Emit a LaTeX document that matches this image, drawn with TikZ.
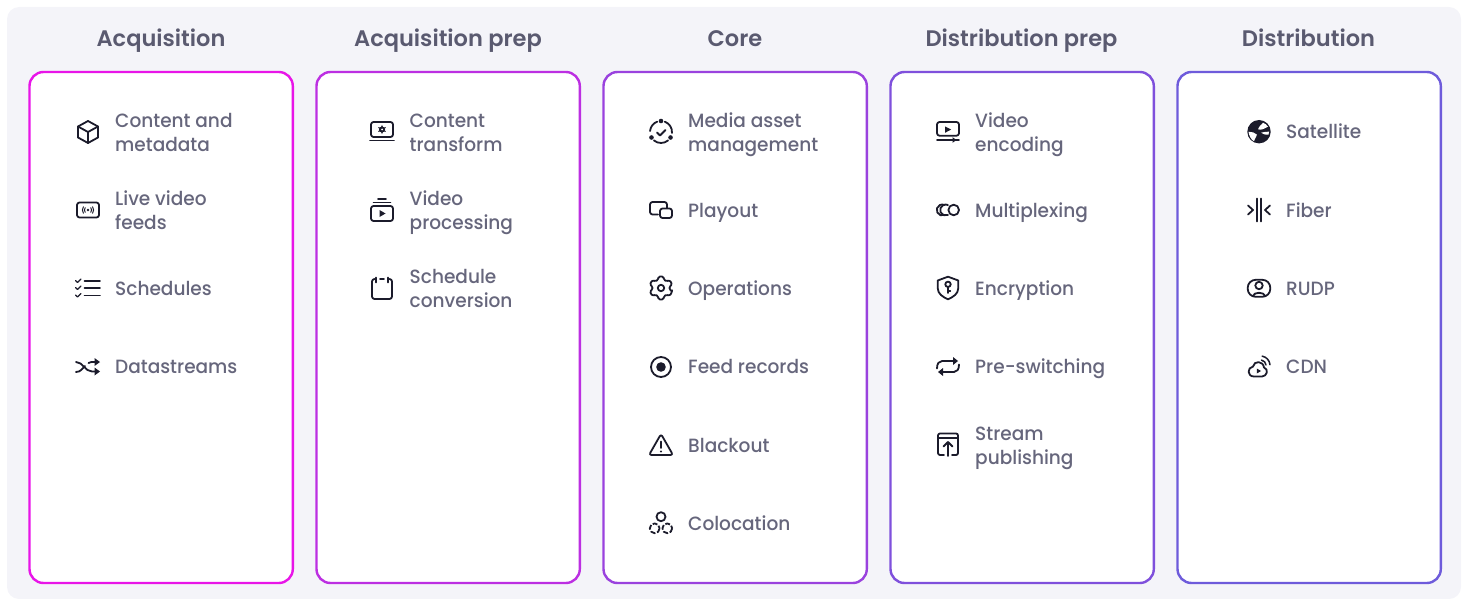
\documentclass[tikz,border=0pt]{standalone}
\usepackage{fontspec}
\setmainfont[FakeStretch=0.965]{Poppins Medium}
\newfontfamily\headfont{Poppins SemiBold}
\definecolor{bgc}{HTML}{F4F4F9}
\definecolor{txt}{HTML}{66667C}
\definecolor{hd}{HTML}{5A5A70}
\definecolor{ink}{HTML}{1B1B2B}
\definecolor{pa}{HTML}{E815E8}
\definecolor{pb}{HTML}{BC2FE2}
\definecolor{pc}{HTML}{9A42DE}
\definecolor{pd}{HTML}{7F50DC}
\definecolor{pe}{HTML}{6E5BDB}
\tikzset{
 panel/.style={draw=#1,line width=2.4pt,fill=white,rounded corners=14pt},
 head/.style={text=hd,font=\headfont\fontsize{22.5}{26}\selectfont,anchor=center,inner sep=0pt},
 item/.style={text=txt,font=\fontsize{19.2}{24}\selectfont,anchor=west,align=left,inner sep=0pt},
 ic/.style={draw=ink,line width=1.8pt,line cap=round,line join=round},
 icf/.style={fill=ink,draw=none},
}
\newcommand{\icube}[1]{\begin{scope}[shift={#1}]
 \draw[ic] (0,-11)--(10,-5.5)--(10,5.5)--(0,11)--(-10,5.5)--(-10,-5.5)--cycle;
 \draw[ic] (-10,-5.5)--(0,0)--(10,-5.5) (0,0)--(0,11);
\end{scope}}
\newcommand{\ilive}[1]{\begin{scope}[shift={#1}]
 \draw[ic,rounded corners=2.5pt] (-11,-7.5) rectangle (11,7.5);
 \fill[icf] (0,0) circle (1.4);
 \draw[ic,line width=1pt] (0,0) ++(140:3.6) arc (140:220:3.6) (0,0) ++(-40:3.6) arc (-40:40:3.6);
 \draw[ic,line width=1pt] (0,0) ++(145:5.6) arc (145:215:5.6) (0,0) ++(-35:5.6) arc (-35:35:5.6);
\end{scope}}
\newcommand{\ilist}[1]{\begin{scope}[shift={#1}]
 \draw[ic] (-3.5,-7)--(12,-7) (-3.5,0)--(12,0) (-3.5,7.5)--(12,7.5);
 \foreach \y in {-7,0,7.5}{\draw[ic,line width=1.4pt] (-12.5,\y-.5)--(-10.5,\y+1.5)--(-7,\y-2);}
\end{scope}}
\newcommand{\ishuffle}[1]{\begin{scope}[shift={#1}]
 \draw[ic] (-12,-5) .. controls (-5,-5) and (-3,4.5) .. (4,4.5) -- (8,4.5);
 \draw[ic] (-12,5) .. controls (-7,5) and (-6,1.5) .. (-3,-1);
 \draw[ic] (0.5,-4) .. controls (2,-5) and (3,-5) .. (8,-5);
 \fill[icf] (12,-5)--(6.5,-9)--(6.5,-1)--cycle (12,4.5)--(6.5,.5)--(6.5,8.5)--cycle;
\end{scope}}
\newcommand{\ilaptop}[1]{\begin{scope}[shift={#1}]
 \draw[ic,rounded corners=2.5pt] (-11,-10) rectangle (11,5);
 \draw[ic] (-12,8.5)--(12,8.5);
 \fill[icf] (0,-2.5) circle (3);
 \foreach \a in {30,90,...,330}{\fill[icf] ($(0,-2.5)+(\a-22:2.6)$)--($(0,-2.5)+(\a:4.6)$)--($(0,-2.5)+(\a+22:2.6)$)--cycle;}
 \fill[white] (0,-2.5) circle (1);
\end{scope}}
\newcommand{\iproc}[1]{\begin{scope}[shift={#1}]
 \draw[ic,rounded corners=2.5pt] (-11,-4) rectangle (11,11);
 \draw[ic] (-8.5,-7.5)--(8.5,-7.5) (-4,-11)--(4,-11);
 \fill[icf] (-2.5,0)--(3.5,3.5)--(-2.5,7)--cycle;
\end{scope}}
\newcommand{\ical}[1]{\begin{scope}[shift={#1}]
 \draw[ic,rounded corners=2.5pt] (-8,-9)--(-10,-9)--(-10,11)--(10,11)--(10,-9)--(8,-9);
 \draw[ic] (-6,-10.5)--(-6,-5.5) (6,-10.5)--(6,-5.5) (-2,-9)--(2,-9);
\end{scope}}
\newcommand{\iasset}[1]{\begin{scope}[shift={#1}]
 \draw[ic] (0,0) ++(-70:11) arc (-70:5:11);
 \draw[ic] (0,0) ++(-175:11) arc (-175:-110:11);
 \draw[ic] (0,0) ++(50:11) arc (50:130:11);
 \fill[icf] (-90:11) circle (2.3) (30:11) circle (2.3) (150:11) circle (2.3);
 \draw[ic] (-4,0.5)--(-1,3.5)--(4.5,-2);
\end{scope}}
\newcommand{\iplay}[1]{\begin{scope}[shift={#1}]
 \draw[ic,rounded corners=2.5pt] (-3,4.5)--(-11,4.5)--(-11,-8)--(6,-8)--(6,-2);
 \draw[ic,rounded corners=2.5pt] (-1,-1.5) rectangle (11,8);
\end{scope}}
\newcommand{\igear}[1]{\begin{scope}[shift={#1}]
 \draw[ic,rounded corners=1.3pt] (18:11.7) \foreach \a in {30,90,...,330}{ -- (\a+12:11.7) -- (\a+20:8.7) -- (\a+40:8.7) -- (\a+48:11.7)} -- cycle;
 \draw[ic] (0,0) circle (3.2);
\end{scope}}
\newcommand{\irec}[1]{\begin{scope}[shift={#1}]
 \draw[ic] (0,0) circle (10);
 \fill[icf] (0,0) circle (4.8);
\end{scope}}
\newcommand{\iwarn}[1]{\begin{scope}[shift={#1}]
 \draw[ic,rounded corners=2.5pt] (0,-11)--(12,10)--(-12,10)--cycle;
 \draw[ic] (0,-3.5)--(0,3);
 \fill[icf] (0,6.5) circle (1.2);
\end{scope}}
\newcommand{\icoloc}[1]{\begin{scope}[shift={#1}]
 \draw[ic] (0,-6.3) circle (4.5);
 \draw[ic,dash pattern=on 5pt off 1.8pt,line cap=butt] (-6.3,5.3) circle (4.9);
 \draw[ic,dash pattern=on 5pt off 1.8pt,line cap=butt] (6.3,5.3) circle (4.9);
\end{scope}}
\newcommand{\ienc}[1]{\begin{scope}[shift={#1}]
 \draw[ic,rounded corners=2.5pt] (-11,-10) rectangle (11,3.7);
 \draw[ic] (-11,8)--(11,8);
 \fill[icf] (-3,-5.5)--(3.2,-2.5)--(-3,0.8)--cycle;
 \fill[icf] (4.5,5.2)--(8.5,8)--(4.5,10.8)--cycle;
\end{scope}}
\newcommand{\imux}[1]{\begin{scope}[shift={#1}]
 \draw[ic] (5.7,0) circle (5.3);
 \draw[ic] (-2.4,0) ++(65:5.5) arc (65:295:5.5);
 \draw[ic] (-5.8,0) ++(65:5.5) arc (65:295:5.5);
\end{scope}}
\newcommand{\ishield}[1]{\begin{scope}[shift={#1}]
 \draw[ic] (0,-11.3) -- (10.3,-7.5) -- (10.3,0) .. controls (10.3,6) and (5,9) .. (0,11.3) .. controls (-5,9) and (-10.3,6) .. (-10.3,0) -- (-10.3,-7.5) -- cycle;
 \draw[ic] (0,-3.7) circle (2.7);
 \draw[ic] (0,-1)--(0,5) (0,3)--(2.3,3);
\end{scope}}
\newcommand{\iloop}[1]{\begin{scope}[shift={#1}]
 \draw[ic] (-11,2) .. controls (-11,-3) and (-9,-5.5) .. (-6,-5.5) -- (6,-5.5);
 \draw[ic] (11,-2) .. controls (11,3) and (9,5.5) .. (6,5.5) -- (-6,5.5);
 \fill[icf] (10,-5.5)--(5,-9.5)--(5,-1.5)--cycle (-10,5.5)--(-5,1.5)--(-5,9.5)--cycle;
\end{scope}}
\newcommand{\ipub}[1]{\begin{scope}[shift={#1}]
 \draw[ic,rounded corners=2pt] (-4,10)--(-10,10)--(-10,-11.5)--(10,-11.5)--(10,10)--(4,10);
 \draw[ic] (-10,-6.7)--(10,-6.7);
 \draw[ic] (0,11)--(0,-3) (-4.5,1.5)--(0,-3)--(4.5,1.5);
\end{scope}}
\newcommand{\iglobe}[1]{\begin{scope}[shift={#1}]
 \fill[icf] (0,0) circle (11.7);
 \fill[white] (4,-9) .. controls (2,-6) and (-1,-5) .. (-1,-2.5) .. controls (2,-1) and (5,-3) .. (9,-5) .. controls (8,-7) and (6,-8) .. (4,-9) -- cycle;
 \fill[white] (-10.5,0) .. controls (-7,0) and (-4,1) .. (-2,3) .. controls (-3,6) and (-5,8) .. (-5,9.5) .. controls (-8,8) and (-10,4) .. (-10.5,0) -- cycle;
 \fill[white] (2,1) .. controls (5,0) and (8,0) .. (10,0) .. controls (10,1) and (10,2) .. (9.5,3) .. controls (7,3) and (4,3) .. (2,1) -- cycle;
\end{scope}}
\newcommand{\ifiber}[1]{\begin{scope}[shift={#1}]
 \draw[ic] (-2.2,-11.5)--(-2.2,11.5) (2.2,-11.5)--(2.2,11.5);
 \draw[ic] (-11,-4.5)--(-6,0)--(-11,4.5) (11,-4.5)--(6,0)--(11,4.5);
\end{scope}}
\newcommand{\irudp}[1]{\begin{scope}[shift={#1}]
 \draw[ic,rounded corners=8pt] (-11.3,-8.5) rectangle (11.3,8.5);
 \draw[ic] (0,-2.8) circle (3.7);
 \draw[ic] (-6,7.5) .. controls (-5,3.5) and (5,3.5) .. (6,7.5);
\end{scope}}
\newcommand{\icdn}[1]{\begin{scope}[shift={#1}]
 \draw[ic] (-5,10.5) -- (3,10.5) .. controls (8,10.5) and (10,3) .. (5,1.5) .. controls (4,-5.5) and (-5,-5.5) .. (-6,0.5) .. controls (-12,1.5) and (-12,10.5) .. (-5,10.5) -- cycle;
 \fill[icf] (-2.2,2.5)--(2,5)--(-2.2,7.5)--cycle;
 \draw[ic,line width=1.5pt] (1.5,-0.5) ++(-80:5.5) arc (-80:-5:5.5);
 \draw[ic,line width=1.5pt] (1.5,-0.5) ++(-80:9.5) arc (-80:-5:9.5);
\end{scope}}
\usetikzlibrary{calc}
\begin{document}
\begin{tikzpicture}[x=1pt,y=1pt,yscale=-1]
\useasboundingbox (0,0) rectangle (1467,599);
\fill[bgc,rounded corners=12pt] (7,7) rectangle (1461,599);
\draw[panel=pa] (29.5,72) rectangle (292.8,583);
\draw[panel=pb] (316.5,72) rectangle (579.8,583);
\draw[panel=pc] (603.5,72) rectangle (866.8,583);
\draw[panel=pd] (890.5,72) rectangle (1153.8,583);
\draw[panel=pe] (1177.5,72) rectangle (1440.8,583);
\node[head] (h1) at (161,41.5) {\strut Acquisition};
\node[head] (h2) at (448,41.5) {\strut Acquisition prep};
\node[head] (h3) at (735,41.5) {\strut Core};
\node[head] (h4) at (1021.5,41.5) {\strut Distribution prep};
\node[head] (h5) at (1308.5,41.5) {\strut Distribution};
% column 1
\icube{(88,132)}\node[item] (a1) at (115,134.7) {\strut Content and\\\strut metadata};
\ilive{(88,210)}\node[item] (a2) at (115,212.7) {\strut Live video\\\strut feeds};
\ilist{(88,288)}\node[item] (a3) at (115,290.7) {\strut Schedules};
\ishuffle{(88,367)}\node[item] (a4) at (115,369) {\strut Datastreams};
% column 2
\ilaptop{(382,132)}\node[item] (b1) at (409.5,134.7) {\strut Content\\\strut transform};
\iproc{(382,210)}\node[item] (b2) at (409.5,212.7) {\strut Video\\\strut processing};
\ical{(382,288)}\node[item] (b3) at (409.5,290.7) {\strut Schedule\\\strut conversion};
% column 3
\iasset{(661,132)}\node[item] (c1) at (688,134.7) {\strut Media asset\\\strut management};
\iplay{(661,210)}\node[item] (c2) at (688,212.7) {\strut Playout};
\igear{(661,288)}\node[item] (c3) at (688,290.7) {\strut Operations};
\irec{(661,367)}\node[item] (c4) at (688,369) {\strut Feed records};
\iwarn{(661,445)}\node[item] (c5) at (688,447.7) {\strut Blackout};
\icoloc{(661,523)}\node[item] (c6) at (688,525.7) {\strut Colocation};
% column 4
\ienc{(948,132)}\node[item] (d1) at (975,134.7) {\strut Video\\\strut encoding};
\imux{(948,210)}\node[item] (d2) at (975,212.7) {\strut Multiplexing};
\ishield{(948,288)}\node[item] (d3) at (975,290.7) {\strut Encryption};
\iloop{(948,366.5)}\node[item] (d4) at (975,369) {\strut Pre-switching};
\ipub{(948,445)}\node[item] (d5) at (975,447.7) {\strut Stream\\\strut publishing};
% column 5
\iglobe{(1259,131.7)}\node[item] (e1) at (1286,134) {\strut Satellite};
\ifiber{(1259,210)}\node[item] (e2) at (1286,212.7) {\strut Fiber};
\irudp{(1259,288.3)}\node[item] (e3) at (1286,290.7) {\strut RUDP};
\icdn{(1259,366)}\node[item] (e4) at (1286,369) {\strut CDN};
\end{tikzpicture}
\end{document}
